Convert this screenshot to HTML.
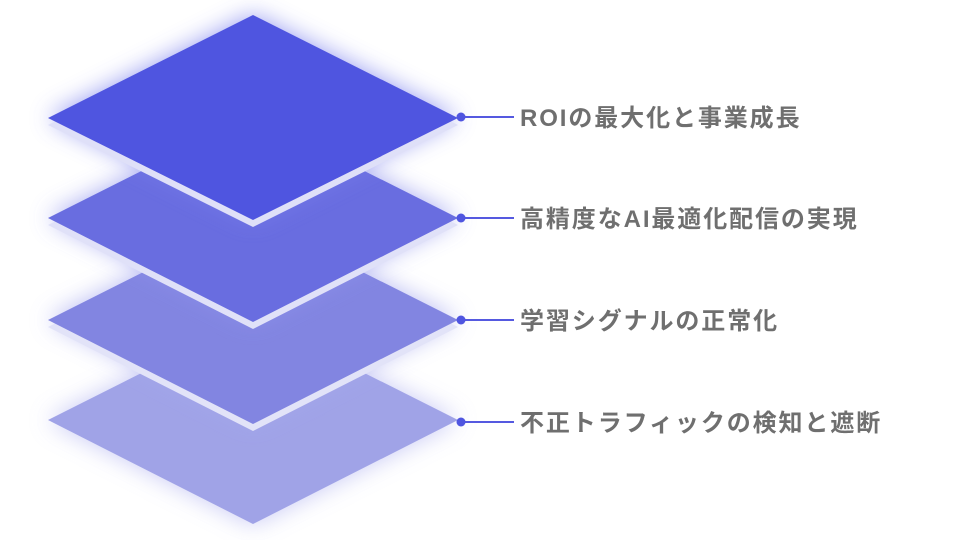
<!DOCTYPE html>
<html><head><meta charset="utf-8"><style>
html,body{margin:0;padding:0;background:#fff;width:960px;height:540px;overflow:hidden}
text{font-family:"Liberation Sans","Noto Sans CJK JP",sans-serif;font-size:24px;font-weight:600;fill:#6f6f6f;letter-spacing:1.9px}
</style></head><body>
<svg width="960" height="540" viewBox="0 0 960 540">
<defs><filter id="g" x="-30%" y="-50%" width="160%" height="200%"><feGaussianBlur stdDeviation="12"/></filter></defs>
<g>
<polygon points="48,420 253,317 458,420 253,524" fill="#b9bbf2" filter="url(#g)" opacity="0.8"/>
<polygon points="48,420 253,317 458,420 253,524" fill="#a0a3e7"/>
</g>
<g>
<polygon points="48,320 253,217 458,320 253,424" fill="#a6a9ef" filter="url(#g)" opacity="0.8"/>
<polygon points="48,327 253,224 458,327 253,431" fill="#e2e3f8"/>
<polygon points="48,320 253,217 458,320 253,424" fill="#8285e1"/>
</g>
<g>
<polygon points="48,218 253,115 458,218 253,322" fill="#9295ee" filter="url(#g)" opacity="0.8"/>
<polygon points="48,225 253,122 458,225 253,329" fill="#e0e1f8"/>
<polygon points="48,218 253,115 458,218 253,322" fill="#696de0"/>
</g>
<g>
<polygon points="48,118 253,15 458,118 253,220" fill="#7d82ee" filter="url(#g)" opacity="0.8"/>
<polygon points="48,125 253,22 458,125 253,227" fill="#dfe0f8"/>
<polygon points="48,118 253,15 458,118 253,220" fill="#4f55e0"/>
</g>
<g stroke="#5559e0" stroke-width="2">
<line x1="461" y1="117" x2="514" y2="117"/>
<line x1="461" y1="218" x2="514" y2="218"/>
<line x1="461" y1="320" x2="514" y2="320"/>
<line x1="461" y1="422" x2="514" y2="422"/>
</g>
<g fill="#4f55e0">
<circle cx="461" cy="117" r="4.5"/><circle cx="461" cy="218" r="4.5"/>
<circle cx="461" cy="320" r="4.5"/><circle cx="461" cy="422" r="4.5"/>
</g>
<text x="520" y="126">ROIの最大化と事業成長</text>
<text x="520" y="227">高精度なAI最適化配信の実現</text>
<text x="520" y="329">学習シグナルの正常化</text>
<text x="520" y="431">不正トラフィックの検知と遮断</text>
</svg>
</body></html>
